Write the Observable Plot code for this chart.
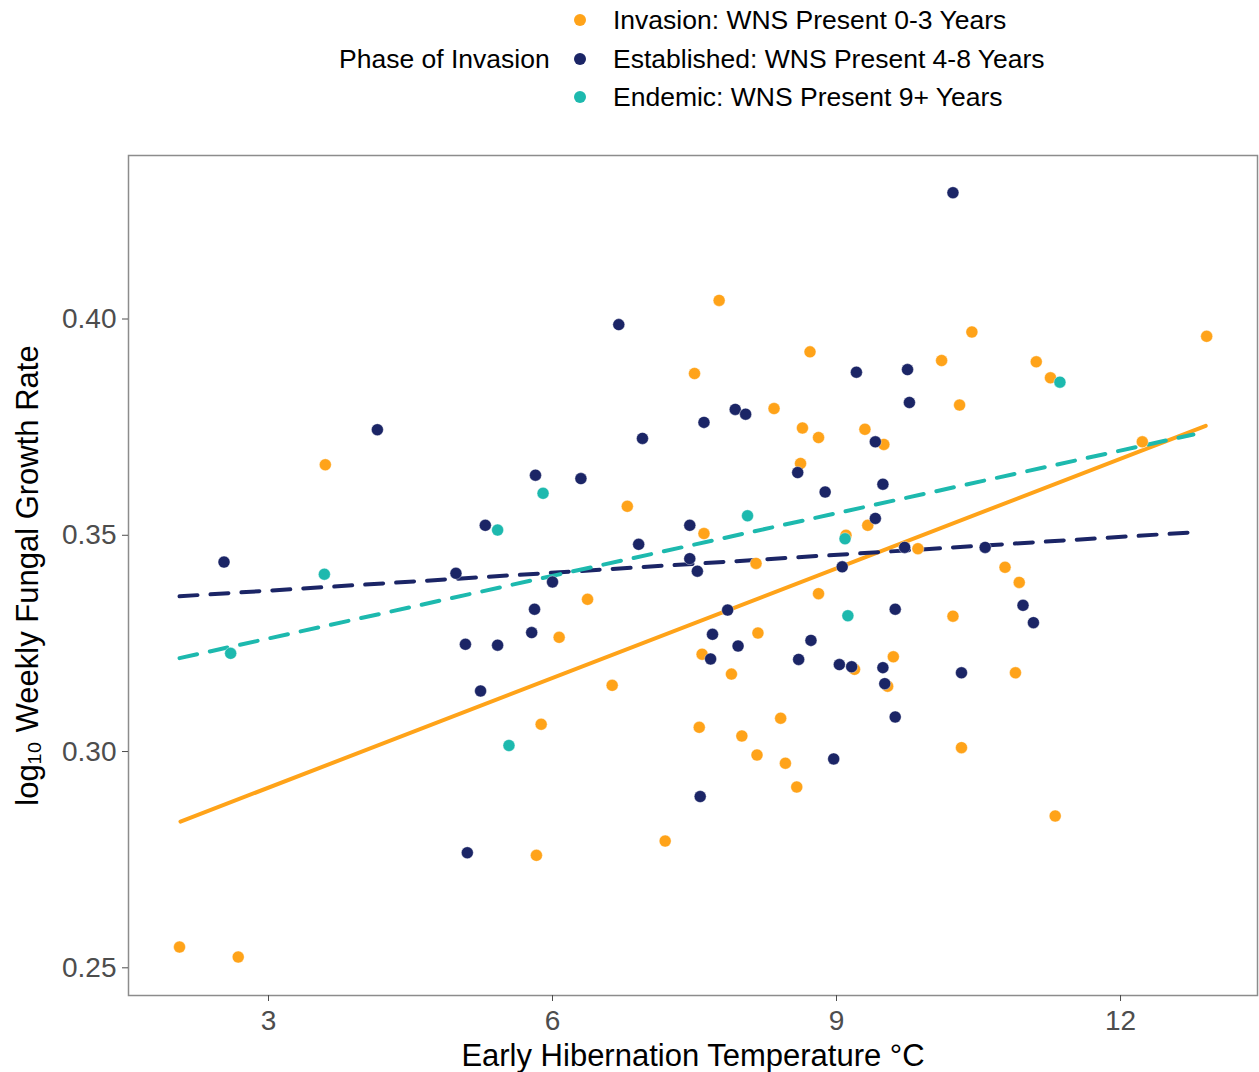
<!DOCTYPE html>
<html>
<head>
<meta charset="utf-8">
<script src="https://cdn.jsdelivr.net/npm/d3@7"></script>
<script src="https://cdn.jsdelivr.net/npm/@observablehq/plot@0.6"></script>
<style>
  body { margin: 0; background: #fff; font-family: "Liberation Sans", Arial, sans-serif; }
  #legend { position: relative; width: 1259px; height: 130px; }
  #legend .title, #legend .lab { position: absolute; font-size: 26.5px; color: #000; line-height: 1; transform: translateY(-50%); white-space: nowrap; }
  #legend .dot { position: absolute; width: 12px; height: 12px; border-radius: 50%; transform: translate(-50%, -50%); }
  #chart svg { display: block; }
</style>
</head>
<body>
<div id="legend"></div>
<div id="chart"></div>
<script>
// ---- data ----
const phases = [
  "Invasion: WNS Present 0-3 Years",
  "Established: WNS Present 4-8 Years",
  "Endemic: WNS Present 9+ Years"
];
const phaseColors = ["#FFA319", "#1B2566", "#1DB9AE"];
const legendTitle = "Phase of Invasion";
const xLabel = "Early Hibernation Temperature °C";
const yLabel = "log₁₀ Weekly Fungal Growth Rate";
const xTicks = [3, 6, 9, 12];
const yTicks = [0.25, 0.30, 0.35, 0.40];

const invasionTemp = [2.06, 2.68, 3.60, 6.37, 6.07, 5.88, 5.83, 6.63, 6.79, 7.19, 7.50, 7.76, 7.60, 7.58, 7.55, 7.89, 8.00, 8.16, 8.17, 8.15, 8.41, 8.46, 8.58, 8.34, 8.64, 8.81, 8.72, 8.62, 8.81, 9.19, 9.10, 9.30, 9.50, 9.33, 9.86, 9.60, 9.54, 10.43, 10.11, 10.30, 11.11, 11.26, 12.91, 12.23, 10.78, 10.93, 10.23, 10.89, 10.32, 11.31];
const invasionRate = [0.2548, 0.2525, 0.3663, 0.3352, 0.3264, 0.3063, 0.2760, 0.3153, 0.3567, 0.2793, 0.3874, 0.4043, 0.3504, 0.3225, 0.3056, 0.3179, 0.3036, 0.2992, 0.3274, 0.3435, 0.3077, 0.2973, 0.2918, 0.3793, 0.3748, 0.3726, 0.3924, 0.3666, 0.3365, 0.3190, 0.3500, 0.3745, 0.3710, 0.3523, 0.3469, 0.3219, 0.3151, 0.3970, 0.3904, 0.3801, 0.3901, 0.3864, 0.3960, 0.3716, 0.3426, 0.3391, 0.3313, 0.3182, 0.3009, 0.2851];

const establishedTemp = [4.15, 2.53, 5.29, 4.98, 5.08, 5.42, 5.24, 5.10, 5.78, 5.81, 5.82, 6.30, 6.00, 6.70, 6.95, 6.91, 7.45, 7.45, 7.53, 7.60, 7.93, 8.04, 7.85, 7.69, 7.67, 7.96, 7.56, 8.60, 8.73, 8.97, 9.03, 9.16, 9.06, 9.62, 9.49, 9.51, 9.62, 8.59, 8.88, 9.21, 9.75, 9.77, 9.41, 9.49, 9.41, 9.72, 10.23, 10.57, 10.97, 11.08, 10.32];
const establishedRate = [0.3744, 0.3438, 0.3523, 0.3412, 0.3248, 0.3246, 0.3140, 0.2766, 0.3275, 0.3329, 0.3639, 0.3631, 0.3392, 0.3987, 0.3724, 0.3479, 0.3523, 0.3446, 0.3417, 0.3761, 0.3791, 0.3780, 0.3327, 0.3271, 0.3214, 0.3244, 0.2896, 0.3213, 0.3257, 0.2983, 0.3201, 0.3196, 0.3427, 0.3329, 0.3194, 0.3157, 0.3080, 0.3645, 0.3600, 0.3877, 0.3883, 0.3807, 0.3716, 0.3618, 0.3539, 0.3472, 0.4292, 0.3472, 0.3338, 0.3298, 0.3182];

const endemicTemp = [2.60, 3.59, 5.42, 5.90, 5.54, 8.06, 9.09, 9.12, 11.36];
const endemicRate = [0.3227, 0.3410, 0.3512, 0.3597, 0.3014, 0.3545, 0.3492, 0.3314, 0.3854];

// fitted trend line end points
const invasionFitTemp = [2.07, 12.90];
const invasionFitRate = [0.2838, 0.3753];
const establishedFitTemp = [2.06, 12.78];
const establishedFitRate = [0.3359, 0.3507];
const endemicFitTemp = [2.06, 12.77];
const endemicFitRate = [0.3216, 0.3733];

// ---- build tables ----
const toRows = (xs, ys, phase) => xs.map((x, i) => ({temp: x, rate: ys[i], phase}));
const points = [
  ...toRows(invasionTemp, invasionRate, phases[0]),
  ...toRows(establishedTemp, establishedRate, phases[1]),
  ...toRows(endemicTemp, endemicRate, phases[2])
];
const fitInv = toRows(invasionFitTemp, invasionFitRate, phases[0]);
const fitEst = toRows(establishedFitTemp, establishedFitRate, phases[1]);
const fitEnd = toRows(endemicFitTemp, endemicFitRate, phases[2]);

// ---- legend (HTML, above the SVG) ----
const legend = document.getElementById("legend");
const t = document.createElement("div");
t.className = "title"; t.textContent = legendTitle;
t.style.left = "339px"; t.style.top = "59px";
legend.appendChild(t);
phases.forEach((p, i) => {
  const cy = 20 + i * 38.5;
  const d = document.createElement("div");
  d.className = "dot"; d.style.left = "580px"; d.style.top = cy + "px"; d.style.background = phaseColors[i];
  legend.appendChild(d);
  const l = document.createElement("div");
  l.className = "lab"; l.textContent = p; l.style.left = "613px"; l.style.top = cy + "px";
  legend.appendChild(l);
});

// ---- chart ----
const chart = Plot.plot({
  width: 1259,
  height: 942,
  marginTop: 25,
  marginBottom: 77,
  marginLeft: 128,
  marginRight: 2,
  style: {fontFamily: "'Liberation Sans', Arial, sans-serif", background: "#fff", overflow: "visible"},
  x: {domain: [1.521, 13.447]},
  y: {domain: [0.2436, 0.4378]},
  color: {domain: phases, range: phaseColors},
  marks: [
    Plot.line(fitInv, {x: "temp", y: "rate", stroke: "phase", strokeWidth: 4}),
    Plot.line(fitEst, {x: "temp", y: "rate", stroke: "phase", strokeWidth: 4, strokeDasharray: "18,13"}),
    Plot.line(fitEnd, {x: "temp", y: "rate", stroke: "phase", strokeWidth: 4, strokeDasharray: "18,13"}),
    Plot.dot(points, {x: "temp", y: "rate", fill: "phase", r: 6, stroke: "white", strokeWidth: 0.4}),
    Plot.frame({stroke: "#8c8c8c", strokeWidth: 1.5}),
    Plot.axisX({ticks: xTicks, tickSize: 6, tickPadding: 9, fontSize: 28, color: "#4d4d4d", stroke: "#4d4d4d", label: null}),
    Plot.axisY({ticks: yTicks, tickSize: 6, tickPadding: 6, fontSize: 28, color: "#4d4d4d", stroke: "#4d4d4d", label: null, tickFormat: d3.format(".2f")}),
    Plot.text([xLabel], {text: d => d, frameAnchor: "bottom", lineAnchor: "middle", dy: 61, fontSize: 31, fill: "#000"}),
    Plot.text([yLabel], {text: d => d, frameAnchor: "left", textAnchor: "middle", rotate: -90, dx: -100, fontSize: 31, fill: "#000"})
  ]
});
document.getElementById("chart").appendChild(chart);
</script>
</body>
</html>
